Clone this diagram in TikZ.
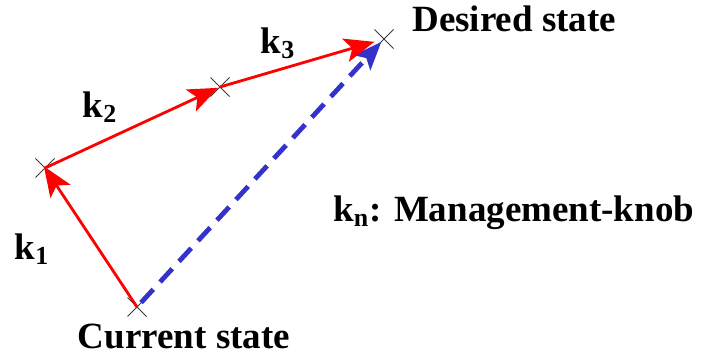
\documentclass[tikz,border=0pt]{standalone}
\usepackage{fontspec}
\setmainfont{Liberation Serif}
\usepackage{tikz}
\usetikzlibrary{arrows.meta,shapes.misc}
\definecolor{knobcol}{RGB}{255,0,0}
\definecolor{directcol}{RGB}{51,51,204}
\definecolor{markcol}{RGB}{60,60,60}
\tikzset{
  knob/.style={knobcol,line width=1.4pt,-{Stealth[length=15pt,width=12pt,inset=3.5pt]}},
  direct/.style={directcol,line width=2.4pt,dash pattern=on 9pt off 5pt,
    -{Stealth[length=14pt,width=11pt,inset=3pt]}},
  statemark/.style={cross out,draw=markcol,line width=0.5pt,minimum size=9pt,inner sep=0pt},
  lbl/.style={font=\fontsize{18.5}{22}\selectfont\bfseries,inner sep=0pt}
}
\begin{document}
\begin{tikzpicture}[x=0.5pt,y=-0.5pt]
  \useasboundingbox (0,0) rectangle (704,357);
  % states
  \coordinate (cur) at (137,307);
  \coordinate (p1) at (45,168);
  \coordinate (p2) at (220,87);
  \coordinate (des) at (384,39);
  \node[statemark] (mcur) at (cur) {};
  \node[statemark] (mp1) at (p1) {};
  \node[statemark] (mp2) at (p2) {};
  \node[statemark] (mdes) at (des) {};
  % knob steps
  \draw[direct,shorten <=3pt,shorten >=2pt] (cur) -- (des);
  \draw[knob,shorten >=-1pt] (cur) -- (p1);
  \draw[knob,shorten >=1pt] (p1) -- (p2);
  \draw[knob,shorten >=5pt] (p2) -- (des);
  % labels
  \node[lbl,anchor=west] (tdes) at (412,19) {Desired state};
  \node[lbl] (tcur) at (184,336) {Current state};
  \node[lbl] (tk1) at (32,249) {k\textsubscript{1}};
  \node[lbl] (tk2) at (100,107) {k\textsubscript{2}};
  \node[lbl] (tk3) at (278,43) {k\textsubscript{3}};
  \node[lbl,anchor=west] (tkn) at (333,213) {k\textsubscript{n}: Management-knob};
\end{tikzpicture}
\end{document}
